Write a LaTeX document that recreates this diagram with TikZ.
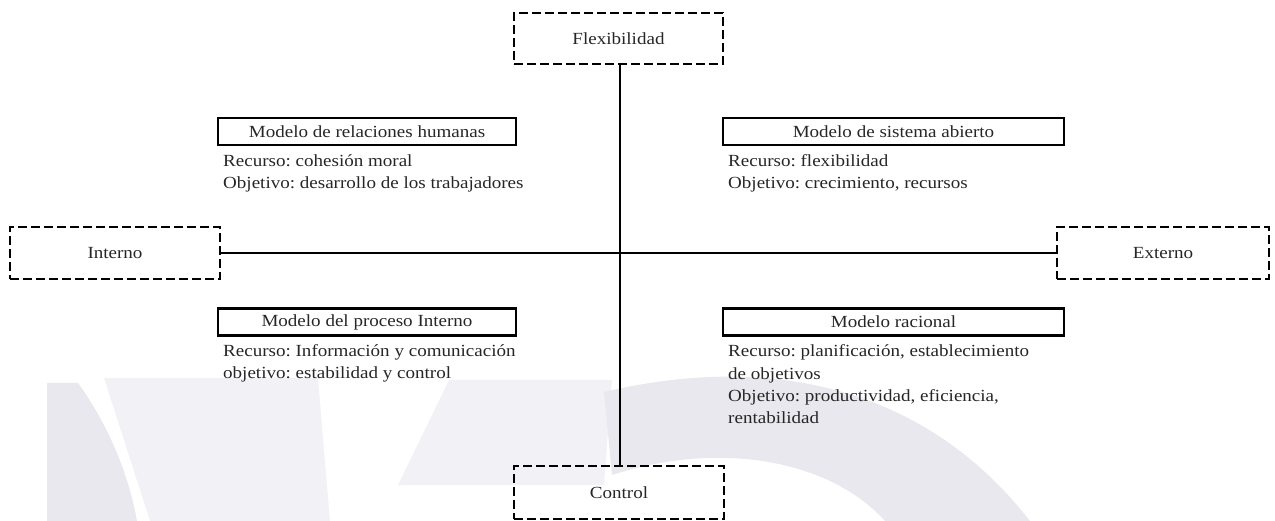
\documentclass[tikz,border=0pt]{standalone}
\usepackage{fontspec}
\setmainfont{Liberation Serif}[FakeStretch=1.12]
\frenchspacing
\begin{document}
\begin{tikzpicture}[x=1pt,y=-1pt,
  every node/.style={font=\fontsize{17}{22}\selectfont, text=black!85},
  axisbox/.style={draw, line width=2.9pt, dash pattern=on 9pt off 4pt, inner sep=0pt},
  titlebox/.style={draw, line width=2.6pt, minimum height=27pt, inner sep=0pt},
  txt/.style={anchor=base west, inner sep=0pt},
  axis/.style={line width=1.5pt},
  shadeA/.style={fill={rgb,255:red,232;green,232;blue,238}, draw=none},
  shadeB/.style={fill={rgb,255:red,242;green,242;blue,246}, draw=none}]
\useasboundingbox (0,0) rectangle (1275,521);

% faint background emblem
\fill[shadeB] (104,378) -- (318,378) -- (330,521) -- (150,521) -- cycle;
\fill[shadeA] (47,383) -- (78,383) .. controls (105,420) and (128,470) .. (137,521) -- (47,521) -- cycle;
\fill[shadeB] (449,380) -- (612,380) -- (604,485) -- (398,485) -- cycle;
\fill[shadeA] (604,392) .. controls (760,355) and (920,380) .. (1030,521)
  -- (885,521) .. controls (830,460) and (720,440) .. (612,475) -- cycle;

% axis end boxes
\node[axisbox, minimum width=209pt, minimum height=51pt] (flex) at (618.5,38.5) {Flexibilidad};
\node[axisbox, minimum width=210pt, minimum height=53pt] (ctrl) at (619,492.5) {Control};
\node[axisbox, minimum width=210pt, minimum height=52pt] (intern) at (115,253) {Interno};
\node[axisbox, minimum width=212pt, minimum height=52pt] (extern) at (1163,253) {Externo};

% axes
\draw[axis] (flex.south -| 620,0) -- (ctrl.north -| 620,0);
\draw[axis] (intern.east) -- (extern.west);

% quadrant titles
\node[titlebox, minimum width=298pt] (hr) at (367,131.5) {Modelo de relaciones humanas};
\node[titlebox, minimum width=341pt] (sa) at (893.5,131.5) {Modelo de sistema abierto};
\node[titlebox, minimum width=298pt] (pi) at (367,322) {Modelo del proceso Interno};
\node[titlebox, minimum width=341pt] (ra) at (893.5,322) {Modelo racional};

% quadrant descriptions
\node[txt] (hr1) at (223,167) {Recurso: cohesión moral};
\node[txt] (hr2) at (223,189) {Objetivo: desarrollo de los trabajadores};
\node[txt] (sa1) at (728,167) {Recurso: flexibilidad};
\node[txt] (sa2) at (728,189) {Objetivo: crecimiento, recursos};
\node[txt] (pi1) at (223,357) {Recurso: Información y comunicación};
\node[txt] (pi2) at (223,379) {objetivo: estabilidad y control};
\node[txt] (ra1) at (728,357) {Recurso: planificación, establecimiento};
\node[txt] (ra2) at (728,380) {de objetivos};
\node[txt] (ra3) at (728,402) {Objetivo: productividad, eficiencia,};
\node[txt] (ra4) at (728,424) {rentabilidad};
\end{tikzpicture}
\end{document}
